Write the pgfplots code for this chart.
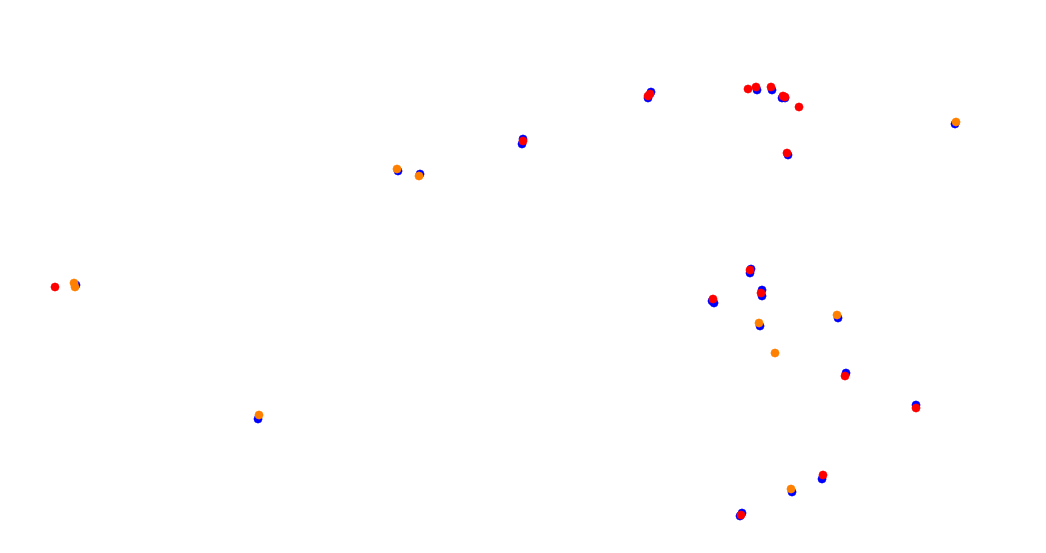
\documentclass[border=0pt]{standalone}
\usepackage{pgfplots}
\pgfplotsset{compat=1.18}
\definecolor{dotorange}{RGB}{255,128,0}

\begin{document}
\begin{tikzpicture}
  \fill[white] (0,0) rectangle (1046pt,552pt);
  \begin{axis}[
    at={(0,0)}, anchor=south west,
    scale only axis,
    width=1046pt, height=552pt,
    xmin=0, xmax=1046, ymin=0, ymax=552,
    y dir=reverse,
    hide axis,
    clip=false,
  ]
    % blue
    \addplot[only marks, mark=*, mark size=4.2pt, color=blue, mark options={solid, draw=blue, fill=blue}]
      coordinates {(76,285) (258,419) (398,171) (420,174) (523,139) (522,144)
        (651,92) (648,98) (757,90) (772,90) (782,98) (785,98) (788,155)
        (955,124) (750,273) (751,269) (714,303) (712,301) (762,290) (762,296)
        (760,326) (838,318) (846,373) (916,405) (822,479) (792,492)
        (740,516) (742,513)};
    % orange
    \addplot[only marks, mark=*, mark size=4.2pt, color=dotorange, mark options={solid, draw=dotorange, fill=dotorange}]
      coordinates {(74,283) (75,287) (259,415) (397,169) (419,176) (956,122)
        (759,323) (775,353) (837,315) (791,489)};
    % red
    \addplot[only marks, mark=*, mark size=4.2pt, color=red, mark options={solid, draw=red, fill=red}]
      coordinates {(55,287) (523,141) (650,94) (648,96) (748,89) (756,87)
        (771,87) (783,96) (785,97) (799,107) (787,153) (750,270) (713,299)
        (761,293) (845,376) (916,408) (823,475) (741,515)};
  \end{axis}
\end{tikzpicture}
\end{document}
